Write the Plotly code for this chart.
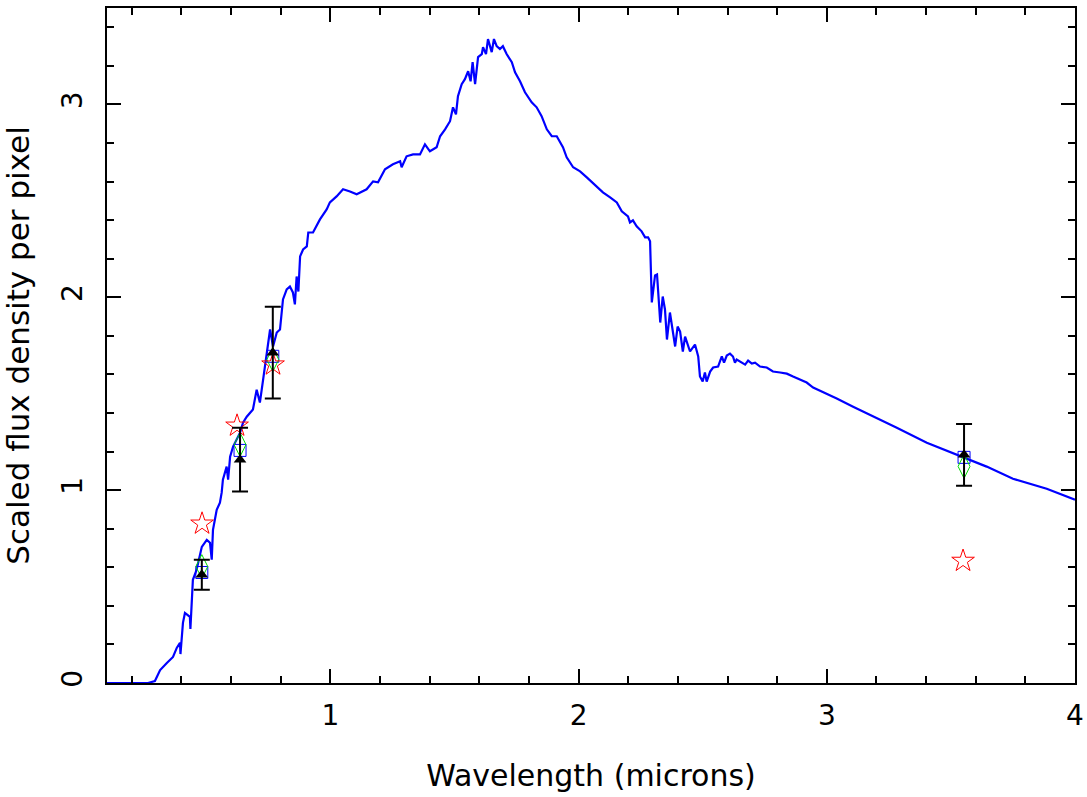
import plotly.graph_objects as go

# Model spectrum (wavelength in microns, scaled flux density)
wave = [0.100, 0.265, 0.293, 0.314, 0.341, 0.366, 0.381, 0.394, 0.396, 0.406,
        0.414, 0.434, 0.436, 0.441, 0.446, 0.461, 0.482, 0.502, 0.515, 0.522,
        0.527, 0.542, 0.555, 0.562, 0.567, 0.582, 0.588, 0.596, 0.608, 0.636,
        0.648, 0.663, 0.676, 0.688, 0.703, 0.716, 0.729, 0.743, 0.757, 0.769,
        0.784, 0.797, 0.809, 0.824, 0.837, 0.849, 0.857, 0.864, 0.871, 0.878,
        0.890, 0.905, 0.911, 0.930, 0.958, 0.985, 0.998, 1.025, 1.051, 1.079,
        1.106, 1.146, 1.172, 1.192, 1.220, 1.252, 1.281, 1.287, 1.307, 1.333,
        1.361, 1.381, 1.401, 1.428, 1.442, 1.462, 1.482, 1.494, 1.506, 1.514,
        1.529, 1.542, 1.555, 1.565, 1.573, 1.583, 1.595, 1.610, 1.615, 1.627,
        1.635, 1.650, 1.659, 1.670, 1.683, 1.695, 1.710, 1.731, 1.744, 1.764,
        1.784, 1.811, 1.831, 1.851, 1.872, 1.892, 1.912, 1.937, 1.952, 1.978,
        2.006, 2.033, 2.086, 2.098, 2.127, 2.154, 2.174, 2.199, 2.207, 2.219,
        2.234, 2.254, 2.268, 2.280, 2.288, 2.295, 2.308, 2.316, 2.329, 2.339,
        2.348, 2.356, 2.368, 2.389, 2.399, 2.409, 2.420, 2.429, 2.449, 2.469,
        2.482, 2.489, 2.500, 2.509, 2.516, 2.530, 2.542, 2.562, 2.577, 2.586,
        2.597, 2.610, 2.622, 2.630, 2.637, 2.657, 2.671, 2.683, 2.698, 2.711,
        2.731, 2.758, 2.783, 2.812, 2.839, 2.864, 2.919, 2.945, 2.973, 3.040,
        3.106, 3.174, 3.282, 3.403, 3.523, 3.644, 3.750, 3.886, 4.000]
flux = [0.000, 0.000, 0.010, 0.067, 0.104, 0.135, 0.182, 0.208, 0.150, 0.312,
        0.363, 0.343, 0.280, 0.395, 0.535, 0.587, 0.706, 0.742, 0.727, 0.639,
        0.794, 0.898, 0.935, 0.987, 1.054, 1.122, 1.054, 1.174, 1.226, 1.298,
        1.350, 1.381, 1.402, 1.418, 1.521, 1.454, 1.573, 1.693, 1.833, 1.745,
        1.817, 1.833, 1.989, 2.041, 2.056, 2.025, 1.963, 2.108, 2.030, 2.212,
        2.248, 2.264, 2.336, 2.336, 2.404, 2.456, 2.492, 2.523, 2.560, 2.549,
        2.534, 2.560, 2.601, 2.596, 2.664, 2.690, 2.705, 2.674, 2.731, 2.741,
        2.741, 2.793, 2.757, 2.778, 2.835, 2.871, 2.913, 2.985, 2.949, 3.043,
        3.105, 3.131, 3.172, 3.120, 3.219, 3.105, 3.245, 3.261, 3.297, 3.261,
        3.339, 3.271, 3.339, 3.302, 3.287, 3.302, 3.261, 3.219, 3.167, 3.120,
        3.063, 3.011, 2.985, 2.939, 2.871, 2.835, 2.835, 2.778, 2.726, 2.674,
        2.653, 2.622, 2.560, 2.544, 2.518, 2.492, 2.446, 2.420, 2.388, 2.399,
        2.368, 2.342, 2.311, 2.311, 2.290, 1.973, 2.113, 2.118, 1.869, 2.004,
        1.937, 1.781, 1.921, 1.745, 1.848, 1.822, 1.719, 1.796, 1.719, 1.755,
        1.693, 1.589, 1.563, 1.610, 1.563, 1.615, 1.636, 1.641, 1.693, 1.661,
        1.698, 1.708, 1.693, 1.661, 1.677, 1.661, 1.651, 1.672, 1.656, 1.661,
        1.641, 1.636, 1.615, 1.610, 1.604, 1.589, 1.558, 1.532, 1.516, 1.475,
        1.433, 1.392, 1.324, 1.246, 1.184, 1.122, 1.059, 1.007, 0.950]

# Photometric points
phot_wave = [0.482, 0.636, 0.768, 3.553]
obs_flux = [0.561, 1.158, 1.713, 1.183]
obs_err = [0.078, 0.165, 0.238, 0.160]
square_flux = [0.573, 1.206, 1.694, 1.170]
diamond_flux = [0.604, 1.236, 1.677, 1.123]
star_wave = [0.483, 0.624, 0.769, 3.549]
star_flux = [0.826, 1.334, 1.651, 0.633]

fig = go.Figure()
fig.add_trace(go.Scatter(x=wave, y=flux, mode="lines",
                         line=dict(color="#0000FF", width=2.2), showlegend=False))
fig.add_trace(go.Scatter(x=phot_wave, y=square_flux, mode="markers",
                         marker=dict(symbol="square-open", size=12, color="#0000FF",
                                     line=dict(width=1)), showlegend=False))
fig.add_trace(go.Scatter(x=phot_wave, y=diamond_flux, mode="markers",
                         marker=dict(symbol="diamond-tall-open", size=17, color="#00DD00",
                                     line=dict(width=1)), showlegend=False))
fig.add_trace(go.Scatter(x=star_wave, y=star_flux, mode="markers",
                         marker=dict(symbol="star-open", size=17, color="#FF0000",
                                     line=dict(width=1)), showlegend=False))
fig.add_trace(go.Scatter(x=phot_wave, y=obs_flux, mode="markers",
                         marker=dict(symbol="triangle-up", size=11, color="black"),
                         error_y=dict(type="data", array=obs_err, visible=True,
                                      color="black", thickness=2, width=8),
                         showlegend=False))

font_family = "DejaVu Sans"
axis_common = dict(showline=True, linecolor="black", linewidth=2, mirror="ticks",
                   ticks="inside", ticklen=14, tickwidth=2, tickcolor="black",
                   showgrid=False, zeroline=False, ticklabeloverflow="allow",
                   automargin=False,
                   tickfont=dict(family=font_family, size=28, color="black"))

fig.update_layout(
    width=1087, height=797,
    margin=dict(l=107, r=12, t=8, b=114),
    paper_bgcolor="white", plot_bgcolor="white",
    xaxis=dict(range=[0.1, 4.0], tick0=0, dtick=1, ticklabelstandoff=6,
               minor=dict(dtick=0.2, tick0=0, ticks="inside", ticklen=7,
                          tickwidth=2, tickcolor="black"),
               title=dict(text="Wavelength (microns)", standoff=34,
                          font=dict(family=font_family, size=30, color="black")),
               **axis_common),
    yaxis=dict(range=[0, 3.5], tick0=0, dtick=1, tickangle=-90, ticklabelstandoff=12,
               minor=dict(dtick=0.2, tick0=0, ticks="inside", ticklen=7,
                          tickwidth=2, tickcolor="black"),
               title=dict(text="Scaled flux density per pixel", standoff=22,
                          font=dict(family=font_family, size=31, color="black")),
               **axis_common),
)

fig.write_html("out.html")
